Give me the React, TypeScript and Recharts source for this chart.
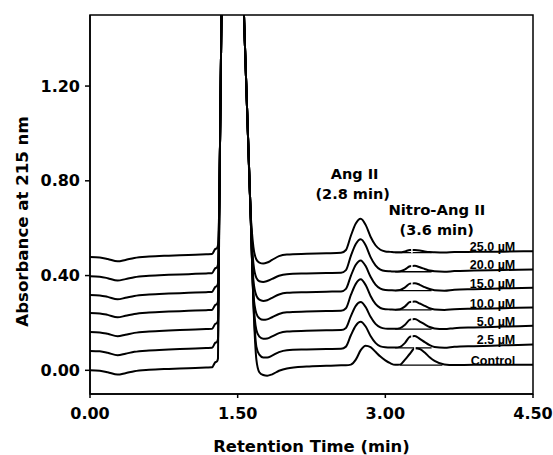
import { LineChart, Line, XAxis, YAxis, ReferenceArea, ReferenceDot, ReferenceLine } from "recharts";

// retention time (min), shared by all traces
const times = [0, 0.1, 0.18, 0.28, 0.36, 0.45, 0.6, 0.8, 1.0, 1.18, 1.24, 1.27, 1.29, 1.3, 1.315, 1.33, 1.35, 1.45, 1.54, 1.57, 1.6, 1.63, 1.66, 1.69, 1.72, 1.76, 1.8, 1.85, 1.92, 2.0, 2.2, 2.4, 2.55, 2.6, 2.65, 2.7, 2.75, 2.8, 2.85, 2.9, 2.95, 3.0, 3.05, 3.1, 3.15, 3.2, 3.25, 3.3, 3.35, 3.4, 3.45, 3.5, 3.6, 3.7, 3.9, 4.2, 4.5];

// absorbance traces, already offset as in the figure
const control = [0, -0.002, -0.008, -0.018, -0.012, -0.004, 0.002, 0.006, 0.009, 0.012, 0.013, 0.033, 0.038, 0.05, 0.75, 1.3, 2.0, 4.0, 1.85, 1.42, 1.05, 0.68, 0.28, 0.045, -0.008, -0.02, -0.023, -0.017, -0.002, 0.008, 0.016, 0.019, 0.021, 0.021, 0.024, 0.045, 0.085, 0.104, 0.098, 0.078, 0.058, 0.042, 0.03, 0.023, 0.024, 0.045, 0.07, 0.093, 0.09, 0.075, 0.055, 0.04, 0.025, 0.022, 0.023, 0.023, 0.024];
const uM2_5 = [0.082, 0.08, 0.074, 0.064, 0.07, 0.078, 0.084, 0.088, 0.091, 0.094, 0.095, 0.115, 0.12, 0.132, 0.75, 1.3, 2.0, 4.0, 1.85, 1.42, 1.05, 0.68, 0.29, 0.1, 0.066, 0.054, 0.054, 0.062, 0.077, 0.085, 0.088, 0.09, 0.091, 0.1, 0.148, 0.189, 0.205, 0.185, 0.145, 0.116, 0.101, 0.097, 0.096, 0.096, 0.099, 0.116, 0.142, 0.145, 0.133, 0.119, 0.106, 0.098, 0.095, 0.099, 0.102, 0.1055, 0.109];
const uM5 = [0.162, 0.16, 0.154, 0.144, 0.15, 0.158, 0.164, 0.168, 0.171, 0.174, 0.175, 0.195, 0.2, 0.212, 0.75, 1.3, 2.0, 4.0, 1.85, 1.42, 1.05, 0.68, 0.3, 0.17, 0.142, 0.133, 0.134, 0.143, 0.157, 0.164, 0.167, 0.169, 0.17, 0.179, 0.229, 0.272, 0.288, 0.267, 0.226, 0.196, 0.181, 0.176, 0.175, 0.175, 0.178, 0.192, 0.214, 0.217, 0.206, 0.194, 0.183, 0.177, 0.174, 0.178, 0.181, 0.1845, 0.188];
const uM10 = [0.242, 0.24, 0.234, 0.224, 0.23, 0.238, 0.244, 0.248, 0.251, 0.254, 0.255, 0.275, 0.28, 0.292, 0.75, 1.3, 2.0, 4.0, 1.85, 1.42, 1.05, 0.68, 0.32, 0.24, 0.22, 0.213, 0.215, 0.224, 0.238, 0.245, 0.248, 0.25, 0.251, 0.262, 0.318, 0.365, 0.384, 0.36, 0.314, 0.28, 0.263, 0.258, 0.257, 0.256, 0.258, 0.27, 0.288, 0.29, 0.282, 0.272, 0.262, 0.257, 0.255, 0.258, 0.26, 0.2625, 0.265];
const uM15 = [0.318, 0.316, 0.31, 0.3, 0.306, 0.314, 0.32, 0.324, 0.327, 0.33, 0.331, 0.351, 0.356, 0.368, 0.75, 1.3, 2.0, 4.0, 1.85, 1.42, 1.05, 0.68, 0.38, 0.315, 0.298, 0.293, 0.296, 0.306, 0.32, 0.327, 0.33, 0.332, 0.333, 0.344, 0.399, 0.446, 0.464, 0.44, 0.395, 0.362, 0.345, 0.339, 0.338, 0.337, 0.339, 0.35, 0.366, 0.368, 0.361, 0.351, 0.343, 0.338, 0.336, 0.34, 0.3425, 0.346, 0.349];
const uM20 = [0.397, 0.395, 0.389, 0.379, 0.385, 0.393, 0.399, 0.403, 0.406, 0.409, 0.41, 0.43, 0.435, 0.447, 0.75, 1.3, 2.0, 4.0, 1.85, 1.42, 1.05, 0.68, 0.45, 0.39, 0.376, 0.373, 0.377, 0.386, 0.399, 0.406, 0.409, 0.411, 0.412, 0.423, 0.483, 0.533, 0.553, 0.528, 0.478, 0.443, 0.425, 0.419, 0.418, 0.417, 0.418, 0.426, 0.439, 0.441, 0.435, 0.428, 0.421, 0.418, 0.416, 0.419, 0.421, 0.4235, 0.426];
const uM25 = [0.478, 0.476, 0.47, 0.46, 0.466, 0.474, 0.48, 0.484, 0.487, 0.49, 0.491, 0.511, 0.516, 0.528, 0.75, 1.3, 2.0, 4.0, 1.85, 1.42, 1.05, 0.68, 0.52, 0.468, 0.455, 0.451, 0.455, 0.466, 0.482, 0.489, 0.492, 0.494, 0.496, 0.508, 0.568, 0.62, 0.64, 0.614, 0.564, 0.528, 0.509, 0.502, 0.5, 0.498, 0.498, 0.502, 0.508, 0.508, 0.506, 0.502, 0.499, 0.498, 0.497, 0.499, 0.5, 0.501, 0.503];

const seriesKeys = ["control", "uM2_5", "uM5", "uM10", "uM15", "uM20", "uM25"];
const seriesValues = [control, uM2_5, uM5, uM10, uM15, uM20, uM25];
const seriesLabels = ["Control", "2.5 µM", "5.0 µM", "10.0 µM", "15.0 µM", "20.0 µM", "25.0 µM"];

// drawn baseline under the Nitro-Ang II peak, per trace
const nitroBase = [0.022, 0.095, 0.174, 0.255, 0.336, 0.416, 0.497];
const nitroStart = [3.15, 3.1, 3.1, 3.1, 3.1, 3.1, 3.1];
const nitroEnd = [3.58, 3.47, 3.47, 3.47, 3.47, 3.47, 3.47];
const nitroApexTime = [3.3, 3.27, 3.27, 3.27, 3.27, 3.27, 3.27];

const xTicks = [0, 1.5, 3, 4.5];
const yTicks = [0, 0.4, 0.8, 1.2];

const rows = times.map((t, i) => {
  const row: Record<string, number> = { t };
  seriesKeys.forEach((k, s) => {
    row[k] = seriesValues[s][i];
  });
  return row;
});

const WIDE = "'DejaVu Sans', Verdana, sans-serif";
const ARIAL = "'Liberation Sans', Arial, sans-serif";

function YTitle(props: any) {
  const vb = props.viewBox ?? { x: 0, y: 15, width: 90, height: 379 };
  const cx = vb.x + 22;
  const cy = vb.y + vb.height / 2 + 17;
  return (
    <text
      x={cx}
      y={cy}
      transform={`rotate(-90 ${cx} ${cy})`}
      textAnchor="middle"
      dominantBaseline="central"
      fontFamily={WIDE}
      fontWeight="bold"
      fontSize={16.6}
      fill="#000"
    >
      Absorbance at 215 nm
    </text>
  );
}

const textAt = (label: string, size: number, anchor: string, family: string) => (p: any) => (
  <text
    x={p.cx}
    y={p.cy}
    textAnchor={anchor}
    dominantBaseline="central"
    fontFamily={family}
    fontWeight="bold"
    fontSize={size}
    fill="#000"
  >
    {label}
  </text>
);

export default function App() {
  const apexValue = (s: number) => Math.max(...seriesValues[s].slice(44, 52));

  return (
    <div style={{ position: "absolute", left: 0, top: 0, background: "#fff" }}>
      <LineChart width={553} height={455} data={rows} margin={{ top: 15, right: 20, bottom: 0, left: 0 }}>
        <XAxis
          dataKey="t"
          type="number"
          domain={[0, 4.5]}
          ticks={xTicks}
          tickFormatter={(v: number) => v.toFixed(2)}
          tickSize={4}
          tickMargin={10}
          height={61}
          axisLine={{ stroke: "#000", strokeWidth: 1.5 }}
          tickLine={{ stroke: "#000", strokeWidth: 1.5 }}
          tick={{ fill: "#000", fontSize: 16, fontWeight: "bold", fontFamily: WIDE }}
          label={{ value: "Retention Time (min)", position: "insideBottom", offset: 3, fill: "#000", fontSize: 16.4, fontWeight: "bold", fontFamily: WIDE }}
        />
        <YAxis
          type="number"
          domain={[-0.1, 1.5]}
          ticks={yTicks}
          allowDataOverflow
          tickFormatter={(v: number) => v.toFixed(2)}
          tickSize={5}
          tickMargin={5}
          width={90}
          axisLine={{ stroke: "#000", strokeWidth: 1.5 }}
          tickLine={{ stroke: "#000", strokeWidth: 1.5 }}
          tick={{ fill: "#000", fontSize: 16, fontWeight: "bold", fontFamily: WIDE }}
          label={<YTitle />}
        />
        {seriesKeys.map((k) => (
          <Line
            key={k}
            dataKey={k}
            type="monotone"
            stroke="#000"
            strokeWidth={2}
            dot={false}
            activeDot={false}
            isAnimationActive={false}
          />
        ))}
        {nitroBase.map((b, s) => (
          <Line
            key={`base-${s}`}
            data={[
              { t: nitroStart[s], v: b },
              { t: nitroEnd[s], v: b },
            ]}
            dataKey="v"
            type="linear"
            stroke="#000"
            strokeWidth={1.3}
            dot={false}
            activeDot={false}
            isAnimationActive={false}
          />
        ))}
        {seriesKeys.map((k, s) => (
          <ReferenceLine
            key={`apex-${k}`}
            segment={[
              { x: nitroApexTime[s], y: apexValue(s) - 0.014 },
              { x: nitroApexTime[s], y: apexValue(s) + 0.01 },
            ]}
            stroke="#fff"
            strokeWidth={1.5}
          />
        ))}
        {seriesLabels.map((lab, s) => (
          <ReferenceDot
            key={`lab-${s}`}
            x={4.32}
            y={seriesValues[s][seriesValues[s].length - 1] + 0.017}
            r={0}
            shape={textAt(lab, 12.5, "end", ARIAL)}
          />
        ))}
        <ReferenceDot x={2.688} y={0.83} r={0} shape={textAt("Ang II", 14.5, "middle", WIDE)} />
        <ReferenceDot x={2.668} y={0.746} r={0} shape={textAt("(2.8 min)", 14.5, "middle", WIDE)} />
        <ReferenceDot x={3.523} y={0.677} r={0} shape={textAt("Nitro-Ang II", 14.8, "middle", WIDE)} />
        <ReferenceDot x={3.523} y={0.593} r={0} shape={textAt("(3.6 min)", 14.5, "middle", WIDE)} />
        <ReferenceArea x1={0} x2={4.5} y1={-0.1} y2={1.5} fill="none" stroke="#000" strokeWidth={1.5} />
      </LineChart>
    </div>
  );
}
